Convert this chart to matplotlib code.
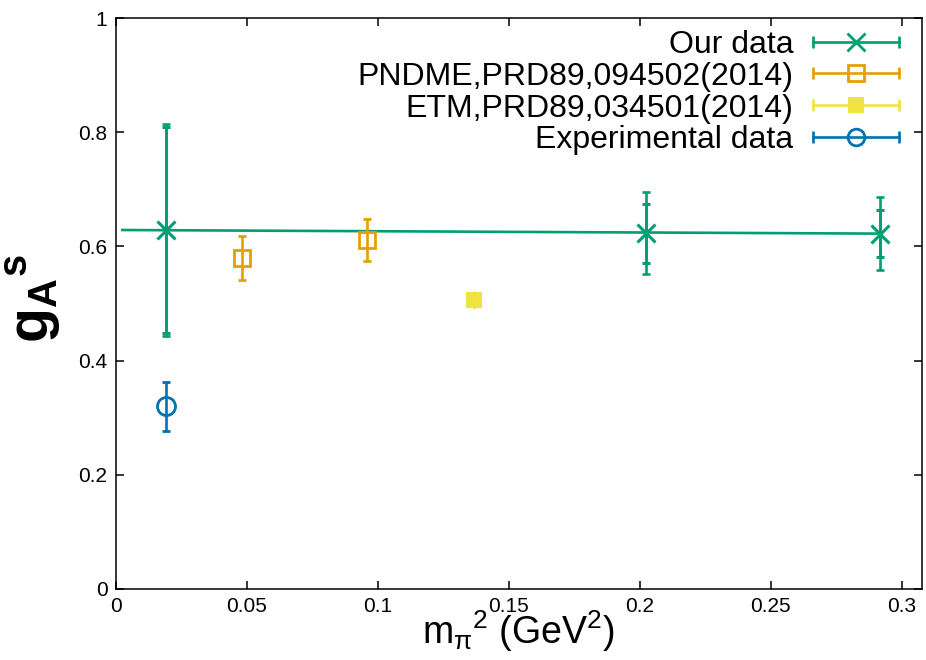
import numpy as np
import matplotlib.pyplot as plt
from matplotlib.lines import Line2D
from matplotlib.legend_handler import HandlerLine2D, HandlerTuple

plt.rcParams['font.family'] = ['Liberation Sans', 'DejaVu Sans']
plt.rcParams['mathtext.fontset'] = 'custom'
plt.rcParams['mathtext.rm'] = 'Liberation Sans'
plt.rcParams['mathtext.it'] = 'Liberation Sans'
plt.rcParams['mathtext.bf'] = 'Liberation Sans:bold'

## data ##
our_x = np.array([0.019, 0.2023, 0.2916])
our_y = np.array([0.629, 0.623, 0.622])
our_err_tot = np.array([0.186, 0.072, 0.064])
our_err_stat = np.array([0.180, 0.052, 0.041])

fit_x = np.array([0.0025, 0.2916])
fit_y = np.array([0.6287, 0.6224])

pndme_x = np.array([0.048, 0.0958])
pndme_y = np.array([0.580, 0.611])
pndme_err = np.array([0.039, 0.037])

etm_x = np.array([0.1366])
etm_y = np.array([0.506])
etm_err = np.array([0.016])

exp_x = np.array([0.019])
exp_y = np.array([0.320])
exp_err = np.array([0.043])

labels = ['Our data', 'PNDME,PRD89,094502(2014)', 'ETM,PRD89,034501(2014)', 'Experimental data']

c_our = '#009e73'
c_pndme = '#e69f00'
c_etm = '#f0e442'
c_exp = '#0072b2'

fig = plt.figure(figsize=(9.26, 6.6), dpi=100)
ax = fig.add_axes([0.125, 0.1076, 0.8705, 0.8651])

lw = 1.9
cap = 3

## our data: fit line + two error bars ##
ax.plot(fit_x, fit_y, color=c_our, lw=lw)
ax.errorbar(our_x, our_y, yerr=our_err_tot, fmt='none', ecolor=c_our, elinewidth=lw, capsize=cap, capthick=lw)
ax.errorbar(our_x, our_y, yerr=our_err_stat, fmt='x', color=c_our, ms=13, mew=2.2,
            elinewidth=lw, capsize=cap, capthick=lw)

ax.errorbar(pndme_x, pndme_y, yerr=pndme_err, fmt='s', color=c_pndme, mfc='none', ms=12, mew=2,
            elinewidth=lw, capsize=cap, capthick=lw)
ax.errorbar(etm_x, etm_y, yerr=etm_err, fmt='s', color=c_etm, ms=12, mew=0,
            elinewidth=lw, capsize=cap, capthick=lw)
ax.errorbar(exp_x, exp_y, yerr=exp_err, fmt='o', color=c_exp, mfc='none', ms=13, mew=2,
            elinewidth=lw, capsize=cap, capthick=lw)

ax.set_xlim(0, 0.3076)
ax.set_ylim(0, 1)
ax.set_xticks([0, 0.05, 0.1, 0.15, 0.2, 0.25, 0.3])
ax.set_xticklabels(['0', '0.05', '0.1', '0.15', '0.2', '0.25', '0.3'])
ax.set_yticks([0, 0.2, 0.4, 0.6, 0.8, 1])
ax.set_yticklabels(['0', '0.2', '0.4', '0.6', '0.8', '1'])
ax.tick_params(direction='in', length=6, width=1.1, top=True, right=True, labelsize=15, pad=6)
for s in ax.spines.values():
    s.set_linewidth(1.1)

ax.set_xlabel(r'$m_{\pi}{}^{2}$ (GeV$^{2}$)', fontsize=27, labelpad=-6)
ax.set_ylabel(r'$\mathbf{g_{A}{}^{s}}$', fontsize=41)
ax.yaxis.set_label_coords(-0.066, 0.508)

## gnuplot style legend: text, then line with caps and marker ##
handles = []
hmap = {}
for c, m, fill in [(c_our, 'x', c_our), (c_pndme, 's', 'none'), (c_etm, 's', c_etm), (c_exp, 'o', 'none')]:
    capline = Line2D([], [], color=c, lw=lw, marker='|', ms=9, mew=lw)
    mk = Line2D([], [], ls='none', color=c, marker=m, mfc=fill, ms=12 if m != 'x' else 13,
                mew=2 if fill == 'none' or m == 'x' else 0)
    hmap[capline] = HandlerLine2D(numpoints=2, marker_pad=0)
    hmap[mk] = HandlerLine2D(numpoints=1)
    handles.append((capline, mk))
hmap[tuple] = HandlerTuple(ndivide=1)

ax.legend(handles, labels, handler_map=hmap, loc='upper right', bbox_to_anchor=(0.9715, 0.9795),
          frameon=False, markerfirst=False, fontsize=23, handlelength=2.7, handletextpad=0.6,
          labelspacing=0.06, borderpad=0, borderaxespad=0)

plt.savefig('out.png', dpi=100)
